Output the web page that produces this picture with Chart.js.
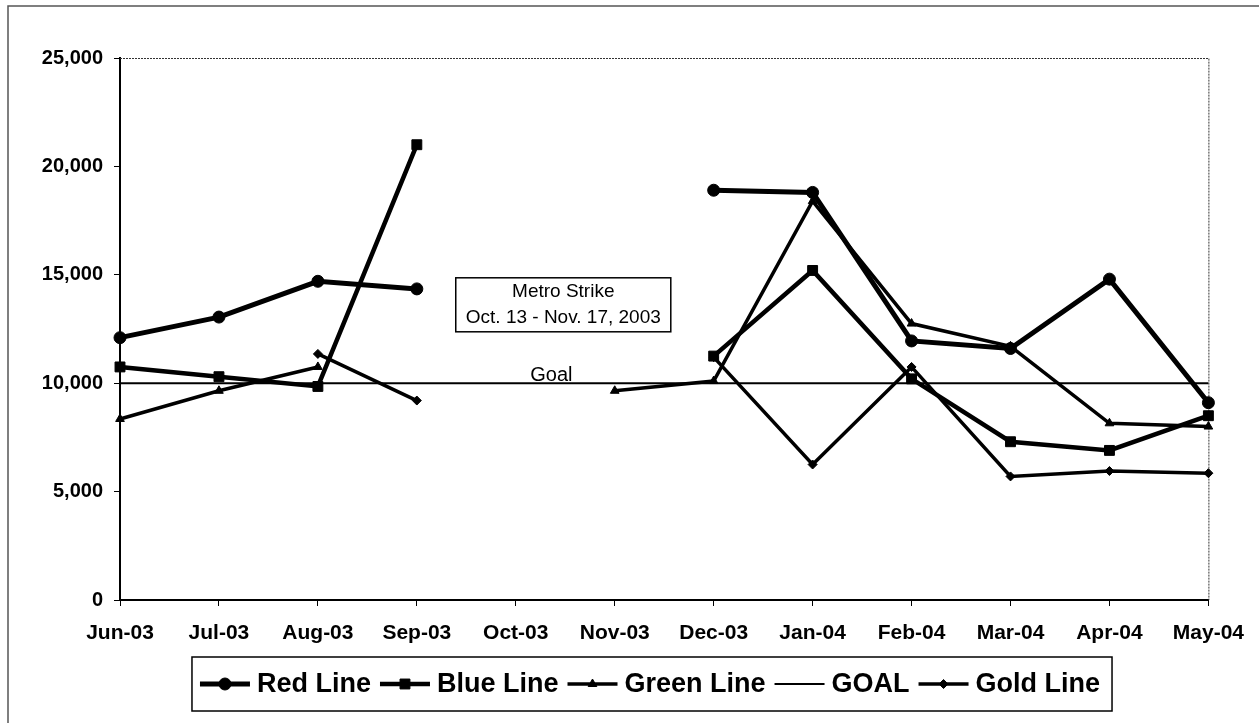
<!DOCTYPE html>
<html>
<head>
<meta charset="utf-8">
<title>Ridership vs Goal</title>
<script src="https://cdn.jsdelivr.net/npm/chart.js@4.4.1/dist/chart.umd.min.js"></script>
<style>
  html, body { margin: 0; padding: 0; background: #fff; }
  #wrap { width: 1259px; height: 723px; }
</style>
</head>
<body>
<div id="wrap"><canvas id="chart" width="1259" height="723"></canvas></div>
<script>
const months = ['Jun-03', 'Jul-03', 'Aug-03', 'Sep-03', 'Oct-03', 'Nov-03',
                'Dec-03', 'Jan-04', 'Feb-04', 'Mar-04', 'Apr-04', 'May-04'];

const redLine   = [12100, 13050, 14700, 14350, null, null, 18900, 18800, 11950, 11600, 14800, 9100];
const blueLine  = [10750, 10300, 9850, 21000, null, null, 11250, 15200, 10200, 7300, 6900, 8500];
const greenLine = [8350, 9650, 10750, null, null, 9650, 10100, 18400, 12750, 11700, 8150, 8000];
const goalLine  = [10000, 10000, 10000, 10000, 10000, 10000, 10000, 10000, 10000, 10000, 10000, 10000];
const goldLine  = [null, null, 11350, 9200, null, null, 11200, 6250, 10750, 5700, 5950, 5850];

const yTicks = [0, 5000, 10000, 15000, 20000, 25000];

const strikeNote = ['Metro Strike', 'Oct. 13 - Nov. 17, 2003'];
const goalNote = 'Goal';

const FONT = '"Liberation Sans", Arial, sans-serif';

// fond blanc + cadre extérieur
const framePlugin = {
  id: 'frame',
  beforeDraw(chart) {
    const ctx = chart.ctx;
    ctx.save();
    ctx.fillStyle = '#fff';
    ctx.fillRect(0, 0, chart.width, chart.height);
    ctx.strokeStyle = '#555';
    ctx.lineWidth = 1.5;
    ctx.beginPath();
    ctx.moveTo(8, chart.height);
    ctx.lineTo(8, 6);
    ctx.lineTo(chart.width, 6);
    ctx.stroke();
    ctx.restore();
  }
};

// bord pointillé haut/droite de la zone de tracé
const plotBorderPlugin = {
  id: 'plotBorder',
  beforeDatasetsDraw(chart) {
    const { ctx, chartArea: a } = chart;
    ctx.save();
    ctx.strokeStyle = '#333';
    ctx.lineWidth = 1;
    ctx.setLineDash([2, 1]);
    ctx.beginPath();
    ctx.moveTo(a.left, a.top + 0.5);
    ctx.lineTo(a.right + 0.5, a.top + 0.5);
    ctx.lineTo(a.right + 0.5, a.bottom);
    ctx.stroke();
    ctx.restore();
  }
};

const notesPlugin = {
  id: 'notes',
  afterDatasetsDraw(chart) {
    const ctx = chart.ctx;
    const x = chart.scales.x;
    const y = chart.scales.y;
    const step = x.getPixelForValue(1) - x.getPixelForValue(0);

    ctx.save();
    ctx.fillStyle = '#000';

    // "Goal" au-dessus de la ligne
    ctx.font = '20px ' + FONT;
    ctx.textAlign = 'center';
    ctx.textBaseline = 'alphabetic';
    ctx.fillText(goalNote, x.getPixelForValue(3) + 1.36 * step, y.getPixelForValue(10000) - 2);

    // encadré grève
    ctx.font = '19px ' + FONT;
    const cx = x.getPixelForValue(3) + 1.48 * step;
    const top = y.getPixelForValue(15000) + 3;
    const w = Math.max(...strikeNote.map(t => ctx.measureText(t).width)) + 20;
    const h = 54;
    ctx.fillStyle = '#fff';
    ctx.fillRect(cx - w / 2, top, w, h);
    ctx.strokeStyle = '#000';
    ctx.lineWidth = 1.5;
    ctx.strokeRect(cx - w / 2, top, w, h);
    ctx.fillStyle = '#000';
    ctx.fillText(strikeNote[0], cx, top + 19);
    ctx.fillText(strikeNote[1], cx, top + 45);
    ctx.restore();
  }
};

function drawMarker(ctx, ds, px, py) {
  if (!ds.pointRadius) return;
  const opts = { pointStyle: ds.pointStyle, radius: ds.pointRadius, rotation: 0, borderWidth: 1 };
  ctx.fillStyle = '#000';
  ctx.strokeStyle = '#000';
  ctx.lineWidth = 1;
  ctx.setLineDash([]);
  if (Chart.helpers && Chart.helpers.drawPoint) {
    Chart.helpers.drawPoint(ctx, opts, px, py);
  } else {
    ctx.beginPath();
    ctx.arc(px, py, ds.pointRadius, 0, Math.PI * 2);
    ctx.fill();
  }
}

// légende encadrée façon Excel (trait + marqueur)
const legendPlugin = {
  id: 'boxLegend',
  afterDraw(chart) {
    const ctx = chart.ctx;
    const a = chart.chartArea;
    const sampleLen = 50, sampleGap = 7, itemGap = 9, padX = 8;
    const boxTop = a.bottom + 57, boxH = 54;
    const centerX = 652;

    ctx.save();
    ctx.font = 'bold 27px ' + FONT;
    const items = chart.data.datasets.map(ds => ({ ds, tw: ctx.measureText(ds.label).width }));
    const inner = items.reduce((s, it) => s + sampleLen + sampleGap + it.tw, 0) + itemGap * (items.length - 1);
    const boxW = inner + padX * 2 + 4;
    const boxLeft = centerX - boxW / 2;

    ctx.strokeStyle = '#000';
    ctx.lineWidth = 1.5;
    ctx.strokeRect(boxLeft, boxTop, boxW, boxH);

    const midY = boxTop + boxH / 2;
    let cur = boxLeft + padX;
    items.forEach(({ ds, tw }) => {
      ctx.strokeStyle = '#000';
      ctx.lineWidth = ds.borderWidth;
      ctx.beginPath();
      ctx.moveTo(cur, midY);
      ctx.lineTo(cur + sampleLen, midY);
      ctx.stroke();
      drawMarker(ctx, ds, cur + sampleLen / 2, midY);
      cur += sampleLen + sampleGap;
      ctx.fillStyle = '#000';
      ctx.textAlign = 'left';
      ctx.textBaseline = 'middle';
      ctx.fillText(ds.label, cur, midY + 1);
      cur += tw + itemGap;
    });
    ctx.restore();
  }
};

function serie(label, data, style, radius, width) {
  return {
    label: label,
    data: data,
    borderColor: '#000',
    backgroundColor: '#000',
    borderWidth: width,
    pointStyle: style,
    pointRadius: radius,
    pointBorderWidth: 1,
    pointBackgroundColor: '#000',
    pointBorderColor: '#000',
    pointHoverRadius: radius,
    tension: 0,
    spanGaps: false,
    clip: false,
    fill: false
  };
}

const ctx = document.getElementById('chart').getContext('2d');
new Chart(ctx, {
  type: 'line',
  data: {
    labels: months,
    datasets: [
      serie('Red Line', redLine, 'circle', 6, 5),
      serie('Blue Line', blueLine, 'rect', 7, 4.5),
      serie('Green Line', greenLine, 'triangle', 5, 3.5),
      serie('GOAL', goalLine, 'line', 0, 2),
      serie('Gold Line', goldLine, 'rectRot', 4.5, 3.5)
    ]
  },
  options: {
    responsive: false,
    animation: false,
    devicePixelRatio: 1,
    layout: { padding: { top: 58, right: 46, left: 0, bottom: 73 } },
    plugins: {
      legend: { display: false },
      tooltip: { enabled: false }
    },
    scales: {
      x: {
        offset: false,
        grid: { drawOnChartArea: false, drawTicks: true, tickLength: 6, color: '#000', lineWidth: 1 },
        border: { display: true, color: '#000', width: 2 },
        ticks: {
          autoSkip: false,
          maxRotation: 0,
          padding: 15,
          color: '#000',
          font: { family: FONT, size: 21, weight: 'bold' }
        },
        afterFit(scale) { scale.height = 50; }
      },
      y: {
        min: 0,
        max: 25000,
        afterBuildTicks(scale) { scale.ticks = yTicks.map(v => ({ value: v })); },
        grid: { drawOnChartArea: false, drawTicks: true, tickLength: 6, color: '#000', lineWidth: 1 },
        border: { display: true, color: '#000', width: 2 },
        ticks: {
          padding: 11,
          color: '#000',
          font: { family: FONT, size: 20, weight: 'bold' },
          callback: v => v.toLocaleString('en-US')
        },
        afterFit(scale) { scale.width = 120; }
      }
    }
  },
  plugins: [framePlugin, plotBorderPlugin, notesPlugin, legendPlugin]
});
</script>
</body>
</html>
